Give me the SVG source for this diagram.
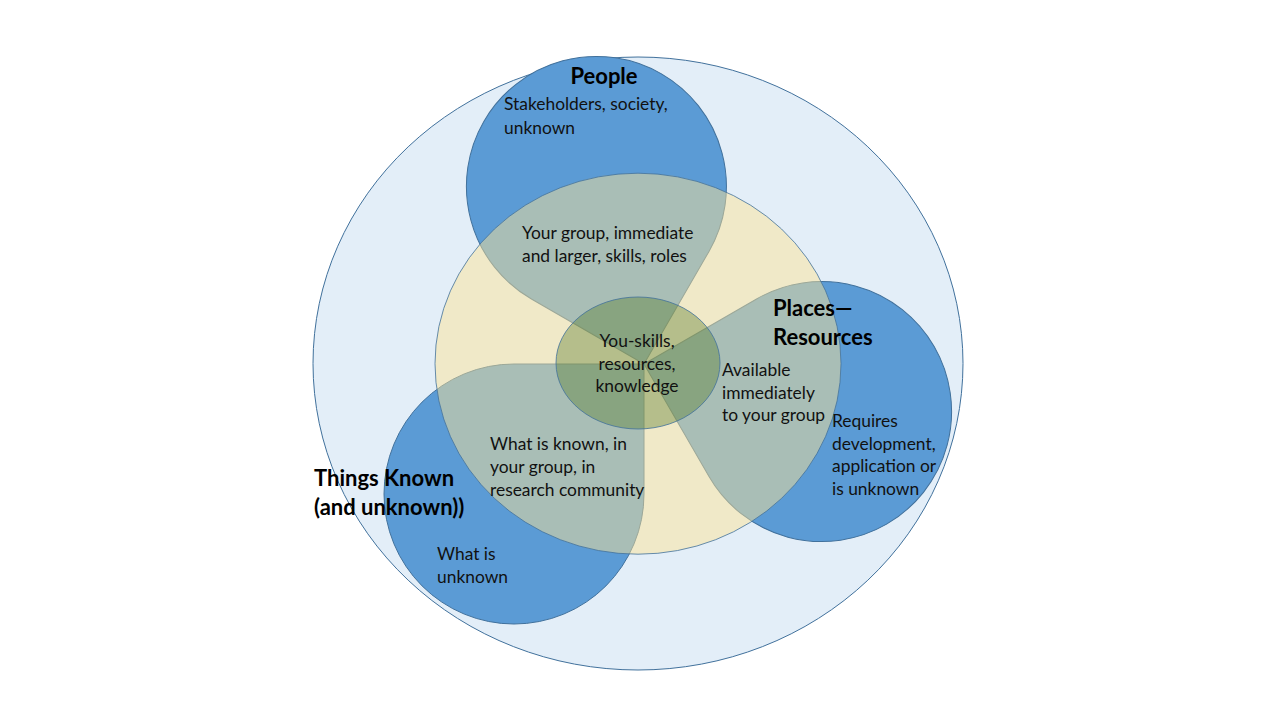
<svg xmlns="http://www.w3.org/2000/svg" width="1280" height="720" viewBox="0 0 1280 720">
<defs>
<style>
.t{font-family:Lato,"Liberation Sans",sans-serif;font-size:17.4px;fill:#111}
.b{font-family:Lato,"Liberation Sans",sans-serif;font-size:22px;font-weight:bold;fill:#000}
.drop{fill:#5b9bd5;stroke:#41719c;stroke-width:1}
</style>
<path id="tear" d="M0,0 L-130,0 A130,130 0 1 0 0,130 Z"/>
</defs>
<rect width="1280" height="720" fill="#fff"/>
<g id="outer"><ellipse cx="638" cy="363.5" rx="325" ry="306.5" fill="#e3eef8" stroke="#41719c" stroke-width="1"/></g>
<g id="things"><use href="#tear" class="drop" transform="translate(644,364)"/></g>
<g id="people"><use href="#tear" class="drop" transform="translate(644,364) rotate(120)"/></g>
<g id="places"><use href="#tear" class="drop" transform="translate(644,364) rotate(240)"/></g>
<g id="group"><ellipse cx="638" cy="363.7" rx="203" ry="190.5" fill="#ffe394" fill-opacity="0.48" stroke="#41719c" stroke-width="0.8"/></g>
<g id="you"><ellipse cx="638" cy="363" rx="82" ry="66" fill="#547a28" fill-opacity="0.38" stroke="#41719c" stroke-width="0.8"/></g>
<g id="connectors"></g>
<g id="labels">
<text class="b" x="604" y="84" text-anchor="middle" font-size="23">People</text>
<text class="t" x="504" y="110">Stakeholders, society,</text>
<text class="t" x="504" y="134">unknown</text>
<text class="t" x="522" y="239">Your group, immediate</text>
<text class="t" x="522" y="262">and larger, skills, roles</text>
<text class="b" x="773" y="316">Places—</text>
<text class="b" x="773" y="345">Resources</text>
<text class="t" x="722" y="376">Available</text>
<text class="t" x="722" y="399">immediately</text>
<text class="t" x="722" y="421">to your group</text>
<text class="t" x="832" y="427">Requires</text>
<text class="t" x="832" y="450">development,</text>
<text class="t" x="832" y="472">application or</text>
<text class="t" x="832" y="495">is unknown</text>
<text class="b" x="314" y="486">Things Known</text>
<text class="b" x="314" y="515">(and unknown))</text>
<text class="t" x="490" y="450">What is known, in</text>
<text class="t" x="490" y="473">your group, in</text>
<text class="t" x="490" y="496">research community</text>
<text class="t" x="437" y="560">What is</text>
<text class="t" x="437" y="583">unknown</text>
<text class="t" x="637" y="347" text-anchor="middle">You-skills,</text>
<text class="t" x="637" y="370" text-anchor="middle">resources,</text>
<text class="t" x="637" y="392" text-anchor="middle">knowledge</text>
</g>
</svg>
